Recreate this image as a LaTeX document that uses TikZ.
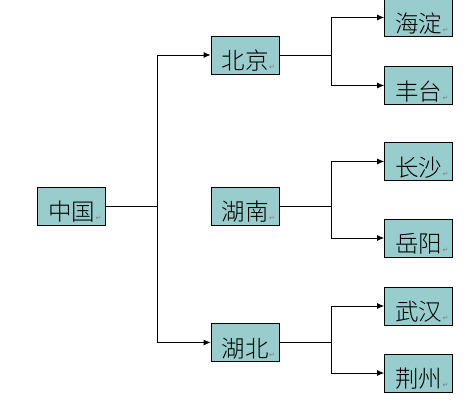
\documentclass[tikz,border=0pt]{standalone}
\usepackage{fontspec}
\newfontfamily\cjk{Noto Sans CJK SC Light}
\newfontfamily\symf{DejaVu Sans}
\usetikzlibrary{arrows.meta}
\newcommand{\ret}{\rlap{\hspace{0.5pt}\textcolor{gray}{\symf\fontsize{7}{7}\selectfont ↵}}}
\tikzset{
  box/.style={draw=black, line width=0.8pt, fill={rgb,255:red,153;green,204;blue,204}, minimum width=68pt, minimum height=38pt, inner sep=0pt},
  lbl/.style={font=\cjk\fontsize{23.5}{23.5}\selectfont, inner sep=0pt, anchor=base},
  conn/.style={line width=0.8pt},
  arr/.style={conn, -{Latex[length=7pt,width=6pt]}}
}
\newcommand{\bx}[4]{\node[box] (#1) at (#2pt,#3pt) {};
  \node[lbl] (#1t) at ([yshift=-15pt]#1.center) {#4\ret};}
\begin{document}
\begin{tikzpicture}[x=1pt,y=1pt]
\useasboundingbox (0,0) rectangle (473,403);
\bx{zg}{71.5}{197}{中国}
\bx{bj}{245}{348}{北京}
\bx{hn}{245}{197}{湖南}
\bx{hb}{245}{60.5}{湖北}
\bx{hd}{418.5}{385.5}{海淀}
\bx{ft}{418.5}{317.5}{丰台}
\bx{cs}{418.5}{241.5}{长沙}
\bx{yy}{418.5}{165}{岳阳}
\bx{wh}{418.5}{97}{武汉}
\bx{jz}{418.5}{30}{荆州}
\coordinate (j0) at (157,197);
\coordinate (j1) at (331,348);
\coordinate (j2) at (331,197);
\coordinate (j3) at (331,60.5);
\draw[conn] (zg.east) -- (j0);
\draw[arr] (j0) |- (bj.west);
\draw[arr] (j0) |- (hb.west);
\draw[conn] (bj.east) -- (j1);
\draw[arr] (j1) |- (hd.west);
\draw[arr] (j1) |- (ft.west);
\draw[conn] (hn.east) -- (j2);
\draw[arr] (j2) |- (cs.west);
\draw[arr] (j2) |- (yy.west);
\draw[conn] (hb.east) -- (j3);
\draw[arr] (j3) |- (wh.west);
\draw[arr] (j3) |- (jz.west);
\end{tikzpicture}
\end{document}
